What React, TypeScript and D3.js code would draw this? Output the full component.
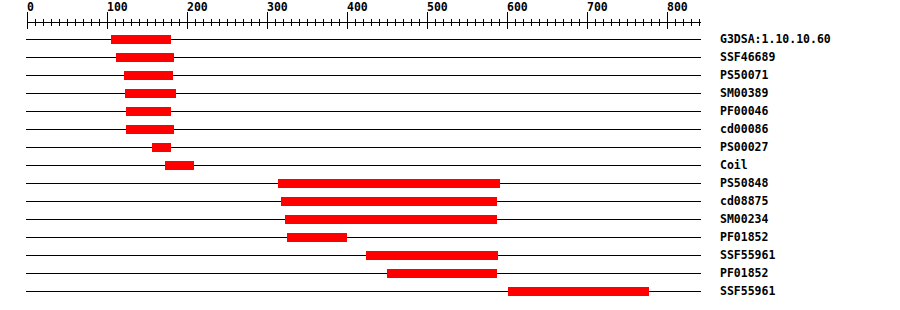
import React from "react";
import * as d3 from "d3";

const labels = ["G3DSA:1.10.10.60","SSF46689","PS50071","SM00389","PF00046","cd00086","PS00027","Coil","PS50848","cd08875","SM00234","PF01852","SSF55961","PF01852","SSF55961"];
const starts = [105,111,121,122,124,124,156,172,314,318,322,325,424,450,601];
const ends = [180,184,183,186,180,184,180,209,591,588,588,400,589,588,778];
const majorTicks = [0,100,200,300,400,500,600,700,800];

export default function App() {
  const W = 900, H = 310;
  const x = d3.scaleLinear().domain([0, 842.5]).range([27, 701]);
  const minor = d3.range(0, 850, 10);
  const axisY = 22;
  const rowY = (i: number) => 39 + i * 18;
  const font = "'DejaVu Sans Mono', monospace";
  return (
    <svg width={W} height={H} style={{ position: "absolute", left: 0, top: 0, background: "#fff" }} shapeRendering="crispEdges">
      <line x1={x(0)} x2={x(842.5)} y1={axisY} y2={axisY} stroke="#000" />
      {minor.map((v) => (
        <line key={"m" + v} x1={Math.round(x(v)) + 0.5} x2={Math.round(x(v)) + 0.5} y1={19} y2={26} stroke="#000" />
      ))}
      {majorTicks.map((v) => (
        <g key={"M" + v}>
          <line x1={Math.round(x(v)) + 0.5} x2={Math.round(x(v)) + 0.5} y1={12} y2={29} stroke="#000" />
          <text x={Math.round(x(v))} y={11} fontFamily={font} fontWeight="bold" fontSize={11.5} fill="#000">{v}</text>
        </g>
      ))}
      {labels.map((l, i) => (
        <g key={i}>
          <line x1={26} x2={701} y1={rowY(i) + 0.5} y2={rowY(i) + 0.5} stroke="#000" />
          <rect x={x(starts[i])} y={rowY(i) - 4} width={x(ends[i]) - x(starts[i])} height={9} fill="#ff0000" />
          <text x={720} y={rowY(i) + 4} fontFamily={font} fontWeight="bold" fontSize={11.5} fill="#000">{l}</text>
        </g>
      ))}
    </svg>
  );
}
